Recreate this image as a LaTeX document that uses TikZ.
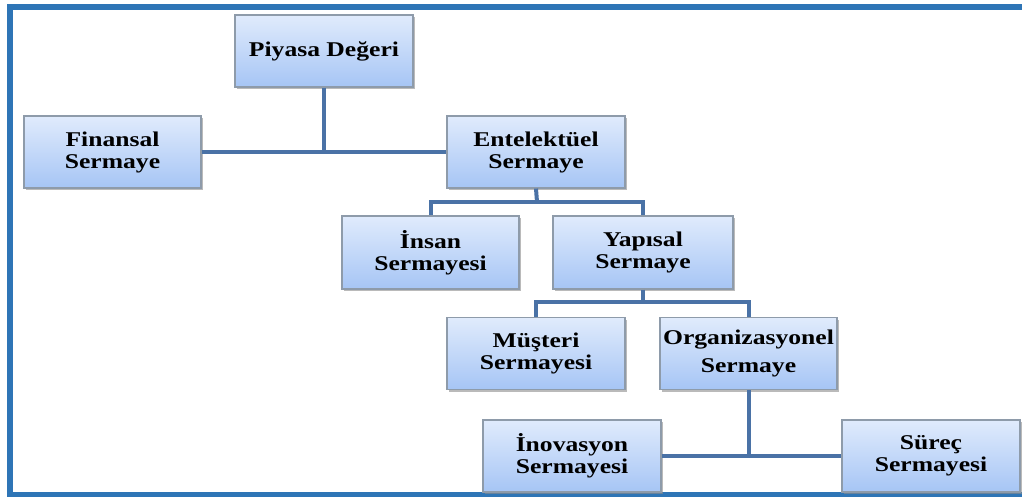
\documentclass[tikz,border=0pt]{standalone}
\usepackage{fontspec}
\setmainfont{Liberation Serif}[FakeStretch=1.22]
\usetikzlibrary{shadows}
\definecolor{framecol}{HTML}{2E75B6}
\definecolor{linkcol}{HTML}{4A72A6}
\definecolor{boxtop}{HTML}{E0EBFC}
\definecolor{boxbot}{HTML}{A6C5F5}
\definecolor{boxedge}{HTML}{8E9BAA}
\tikzset{
  unitbox/.style={rectangle, draw=boxedge, line width=1.2pt,
    top color=boxtop, bottom color=boxbot,
    minimum width=178pt, minimum height=72pt, inner sep=0pt,
    align=center, font=\fontsize{21}{22}\selectfont\bfseries,
    drop shadow={shadow xshift=2pt, shadow yshift=-2pt, fill=black!45, opacity=0.6}},
  link/.style={draw=linkcol, line width=4pt},
  frame/.style={draw=framecol, line width=6pt}
}
\begin{document}
\begin{tikzpicture}[x=1pt, y=-1pt]
  \useasboundingbox (0,0) rectangle (1022,496);
  \fill[white] (0,0) rectangle (1022,496);
  % outer frame (top, left, bottom)
  \draw[frame] (7,7) -- (1030,7);
  \draw[frame] (10,4) -- (10,505);
  \draw[frame] (7,495) -- (1030,495);

  % boxes
  \node[unitbox] (piy) at (324,51) {Piyasa Değeri};
  \node[unitbox, minimum width=177pt] (fin) at (112.5,152) {Finansal\\Sermaye};
  \node[unitbox] (ent) at (536,152) {Entelektüel\\Sermaye};
  \node[unitbox, minimum width=177pt, minimum height=73pt] (ins) at (430.5,252.5) {İnsan\\Sermayesi};
  \node[unitbox, minimum width=180pt, minimum height=73pt] (yap) at (643,252.5) {Yapısal\\Sermaye};
  \node[unitbox] (mus) at (536,353.5) {Müşteri\\Sermayesi};
  \node[unitbox, minimum width=177pt, font=\fontsize{21}{28}\selectfont\bfseries] (org) at (748.5,353.5) {Organizasyonel\\Sermaye};
  \node[unitbox] (ino) at (572,456) {İnovasyon\\Sermayesi};
  \node[unitbox] (sur) at (931,456) {Süreç\\Sermayesi};

  % bus points
  \coordinate (b1) at (537,202);
  \coordinate (b2) at (643,302);

  % connectors
  \draw[link] (fin.east) -- (ent.west);
  \draw[link] (piy.south) -- (piy.south |- fin.east);
  \draw[link] (ins.north) |- (b1) -| (yap.north);
  \draw[link] (ent.south) -- (b1);
  \draw[link] (mus.north) |- (b2) -| (org.north);
  \draw[link] (yap.south) -- (b2);
  \draw[link] (ino.east) -- (sur.west);
  \draw[link] (org.south) -- (org.south |- ino.east);
\end{tikzpicture}
\end{document}
